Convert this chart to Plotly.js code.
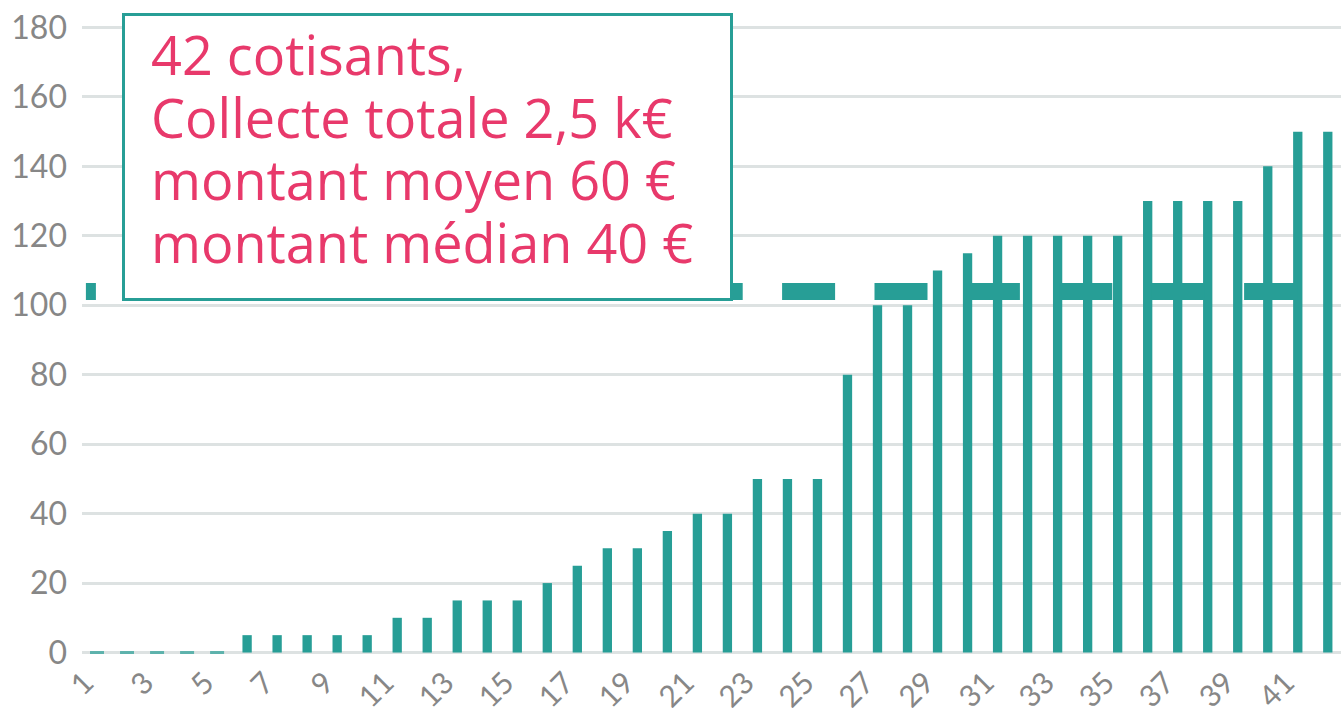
<!DOCTYPE html>
<html>
<head>
<meta charset="utf-8">
<script src="https://cdn.plot.ly/plotly-3.0.1.min.js"></script>
<style>
html, body { margin: 0; padding: 0; background: #ffffff; }
#chart { width: 1341px; height: 708px; }
</style>
</head>
<body>
<div id="chart"></div>
<script>
// ---- data ----
const contributors = [1,2,3,4,5,6,7,8,9,10,11,12,13,14,15,16,17,18,19,20,21,22,23,24,25,26,27,28,29,30,31,32,33,34,35,36,37,38,39,40,41,42];
const amounts = [0,0,0,0,0,5,5,5,5,5,10,10,15,15,15,20,25,30,30,35,40,40,50,50,50,80,100,100,110,115,120,120,120,120,120,130,130,130,130,140,150,150];
const tickValues = [1,3,5,7,9,11,13,15,17,19,21,23,25,27,29,31,33,35,37,39,41];
const tickLabels = ["1","3","5","7","9","11","13","15","17","19","21","23","25","27","29","31","33","35","37","39","41"];
const refLineX = [0.63, 42];
const refLineY = [104, 104];
const summaryLines = ["42 cotisants,", "Collecte totale 2,5 k€", "montant moyen 60 €", "montant médian 40 €"];

// ---- style ----
const TEAL = '#279E96';
const GRID = '#DDE2E2';
const LABEL = '#878787';
const PINK = '#E8396B';
const FONT = 'Lato, "Open Sans", sans-serif';
const BOX_FONT = '"Open Sans", Lato, sans-serif';
const PLOT_L = 82, PLOT_T = 24, PLOT_W = 1259, PLOT_H = 632;
const px2paperX = px => (px - PLOT_L) / PLOT_W;
const px2paperY = py => (PLOT_T + PLOT_H - py) / PLOT_H;

// dash pattern: short leading dash, then regular long dashes
const dashParts = ['10px', '39.4px'];
for (let i = 0; i < 16; i++) { dashParts.push('53px', '39.4px'); }

const bars = {
  type: 'bar',
  x: contributors,
  y: amounts,
  marker: { color: TEAL },
  hoverinfo: 'x+y'
};

// zero-valued bars are drawn by Excel as a flat stub on the baseline
const zeroStubs = {
  type: 'scatter',
  mode: 'markers',
  x: contributors,
  y: amounts,
  marker: {
    symbol: 'line-ew',
    size: amounts.map(v => v === 0 ? 10 : 0),
    line: { color: TEAL, width: 3 },
    color: TEAL
  },
  hoverinfo: 'skip'
};

const refLine = {
  type: 'scatter',
  mode: 'lines',
  x: refLineX,
  y: refLineY,
  line: { color: TEAL, width: 17, dash: dashParts.join(',') },
  hoverinfo: 'skip'
};

const annotations = [{
  xref: 'paper', yref: 'paper',
  x: px2paperX(122), y: px2paperY(13),
  xanchor: 'left', yanchor: 'top',
  text: ' ',
  showarrow: false,
  width: 605, height: 282,
  borderpad: 0,
  borderwidth: 3,
  bordercolor: TEAL,
  bgcolor: '#ffffff'
}];
summaryLines.forEach((line, i) => {
  annotations.push({
    xref: 'paper', yref: 'paper',
    x: px2paperX(149), y: px2paperY(15 + i * 62.5),
    xanchor: 'left', yanchor: 'top',
    text: line,
    align: 'left',
    showarrow: false,
    font: { family: BOX_FONT, size: 54, color: PINK }
  });
});

const layout = {
  width: 1341,
  height: 708,
  margin: { l: PLOT_L, r: 0, t: PLOT_T, b: 708 - PLOT_T - PLOT_H },
  paper_bgcolor: '#ffffff',
  plot_bgcolor: '#ffffff',
  showlegend: false,
  bargap: 0.69,
  font: { family: FONT, color: LABEL },
  xaxis: {
    type: 'linear',
    range: [0.5, 42.44],
    tickmode: 'array',
    tickvals: tickValues,
    ticktext: tickLabels,
    tickangle: -45,
    showgrid: false,
    zeroline: false,
    showline: false,
    ticks: '',
    ticklabelstandoff: 2,
    ticklabelshift: -12,
    tickfont: { family: FONT, size: 30, color: LABEL }
  },
  yaxis: {
    range: [-1, 181],
    tick0: 0,
    dtick: 20,
    showgrid: true,
    gridcolor: GRID,
    gridwidth: 3,
    zeroline: true,
    zerolinecolor: GRID,
    zerolinewidth: 3,
    showline: false,
    ticks: '',
    ticklabelstandoff: 14,
    tickfont: { family: FONT, size: 32, color: LABEL }
  },
  annotations: annotations
};

Plotly.newPlot('chart', [refLine, bars, zeroStubs], layout, { displayModeBar: false, staticPlot: true });
</script>
</body>
</html>
